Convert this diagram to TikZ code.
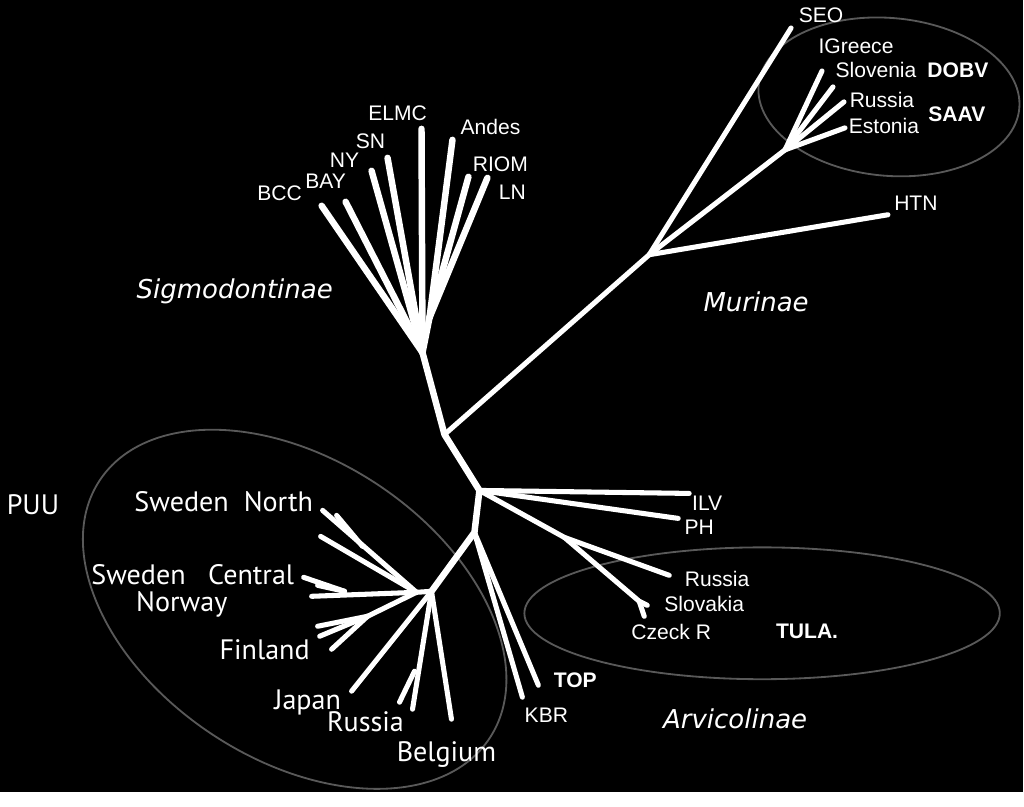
\documentclass[tikz,border=0pt]{standalone}
\usepackage{fontspec}
\setmainfont{Liberation Sans}
\newfontfamily\puufont{PT Sans}
\newfontfamily\cladefont{DejaVu Sans}

\begin{document}
\begin{tikzpicture}[x=0.025cm, y=-0.025cm,
  every node/.style={text=white, inner sep=0pt, outer sep=0pt, font=\fontsize{15}{18}\selectfont},
  branch/.style={draw=white, line width=4.6pt, line cap=round, line join=round},
  twig/.style={draw=white, line width=3.6pt, line cap=round, line join=round},
  clade/.style={draw=black!65!white, line width=1.3pt},
  strain/.style={font=\puufont\fontsize{20}{24}\selectfont},
  subfam/.style={font=\cladefont\itshape\fontsize{18.5}{22}\selectfont}]
\fill[black] (0,0) rectangle (1024,793);

\draw[clade, rotate around={-33.5:(295,610)}] (295,610) ellipse [x radius=234, y radius=150];
\draw[clade, rotate around={-5:(890,97)}] (890,97) ellipse [x radius=131, y radius=79];
\draw[clade] (763,614) ellipse [x radius=238, y radius=66];

\coordinate (s) at (423,353);
\coordinate (sr) at (430,318);
\coordinate (a) at (445,435);
\coordinate (b) at (480,491);
\coordinate (c) at (475,533);
\coordinate (d) at (432,592);
\coordinate (m) at (650,255);
\coordinate (dn) at (786,150);
\coordinate (n) at (565,538);
\coordinate (sk) at (640,602);
\coordinate (dl) at (417,593);
\coordinate (snj) at (363,547);
\coordinate (cj) at (345,592);
\coordinate (fj) at (368,617);
\coordinate (rj) at (415,672);

\coordinate (bcc) at (322,206);
\coordinate (bay) at (346,202);
\coordinate (ny) at (372,171);
\coordinate (sn) at (388,158);
\coordinate (elmc) at (422,129);
\coordinate (andes) at (453,140);
\coordinate (riom) at (469,177);
\coordinate (ln) at (488,178);

\coordinate (seo) at (792,28);
\coordinate (htn) at (889,215);
\coordinate (greece) at (823,71);
\coordinate (slov) at (834,87);
\coordinate (mrus) at (845,102);
\coordinate (est) at (846,128);

\coordinate (ilv) at (690,494);
\coordinate (ph) at (679,519);
\coordinate (arus) at (670,576);
\coordinate (slk) at (648,606);
\coordinate (cz) at (645,617);
\coordinate (top) at (539,686);
\coordinate (kbr) at (523,698);

\coordinate (sn1) at (323,511);
\coordinate (sn2) at (337,516);
\coordinate (sn3) at (321,537);
\coordinate (cen) at (312,597);
\coordinate (cen1) at (304,578);
\coordinate (cen2) at (318,586);
\coordinate (fin1) at (318,627);
\coordinate (fin2) at (320,637);
\coordinate (fin3) at (332,650);
\coordinate (jap) at (352,692);
\coordinate (rus1) at (413,710);
\coordinate (rus2) at (400,703);
\coordinate (bel) at (452,720);

\draw[branch] (s) -- (a) -- (b) -- (c) -- (d);
\draw[branch] (s) -- (bcc);
\draw[branch] (s) -- (bay);
\draw[branch] (s) -- (ny);
\draw[branch] (s) -- (sn);
\draw[branch] (s) -- (elmc);
\draw[branch] (s) -- (sr);
\draw[branch] (sr) -- (andes);
\draw[branch] (sr) -- (riom);
\draw[branch] (sr) -- (ln);

\draw[twig] (a) -- (m);
\draw[twig] (m) -- (seo);
\draw[twig] (m) -- (htn);
\draw[twig] (m) -- (dn);
\draw[twig] (dn) -- (greece);
\draw[twig] (dn) -- (slov);
\draw[twig] (dn) -- (mrus);
\draw[twig] (dn) -- (est);

\draw[twig] (b) -- (ilv);
\draw[twig] (b) -- (ph);
\draw[twig] (b) -- (n);
\draw[twig] (n) -- (arus);
\draw[twig] (n) -- (sk);
\draw[twig] (sk) -- (slk);
\draw[twig] (sk) -- (cz);
\draw[twig] (c) -- (top);
\draw[twig] (c) -- (kbr);

\draw[twig] (d) -- (dl);
\draw[twig] (dl) -- (sn1);
\draw[twig] (snj) -- (sn2);
\draw[twig] (dl) -- (sn3);
\draw[twig] (dl) -- (cen);
\draw[twig] (cj) -- (cen1);
\draw[twig] (cj) -- (cen2);
\draw[twig] (dl) -- (fj);
\draw[twig] (fj) -- (fin1);
\draw[twig] (fj) -- (fin2);
\draw[twig] (fj) -- (fin3);
\draw[twig] (d) -- (jap);
\draw[twig] (d) -- (rus1);
\draw[twig] (rj) -- (rus2);
\draw[twig] (d) -- (bel);

\node (lbcc) at (280,193) {BCC};
\node (lbay) at (326,181) {BAY};
\node (lny) at (345,160) {NY};
\node (lsn) at (371,141) {SN};
\node (lelmc) at (398,113) {ELMC};
\node (landes) at (491,127) {Andes};
\node (lriom) at (501,164) {RIOM};
\node (lln) at (513,192) {LN};

\node (lseo) at (822,15) {SEO};
\node (lgreece) at (857,46) {IGreece};
\node (lslov) at (877,70) {Slovenia};
\node (lmrus) at (883,100) {Russia};
\node (lest) at (885,126) {Estonia};
\node[font=\fontsize{15}{18}\selectfont\bfseries] (dobv) at (959,70) {DOBV};
\node[font=\fontsize{15}{18}\selectfont\bfseries] (saav) at (958,114) {SAAV};
\node (lhtn) at (917,203) {HTN};

\node (lilv) at (708,504) {ILV};
\node (lph) at (700,528) {PH};
\node (larus) at (718,580) {Russia};
\node (lslk) at (705,605) {Slovakia};
\node (lcz) at (672,633) {Czeck R};
\node[font=\fontsize{15}{18}\selectfont\bfseries] (tula) at (808,632) {TULA.};
\node[font=\fontsize{15}{18}\selectfont\bfseries] (ltop) at (576,681) {TOP};
\node (lkbr) at (547,716) {KBR};

\node[strain] (puu) at (33,505) {PUU};
\node[strain] (lsn) at (224,502) {Sweden\ \ North};
\node[strain] (lcen) at (193,575) {Sweden\ \ \ Central};
\node[strain] (lnor) at (182,605) {Norway};
\node[strain] (lfin) at (265,650) {Finland};
\node[strain] (ljap) at (308,703) {Japan};
\node[strain] (lrus) at (366,723) {Russia};
\node[strain] (lbel) at (447,755) {Belgium};

\node[subfam] (sig) at (235,292) {Sigmodontinae};
\node[subfam] (mur) at (757,302) {Murinae};
\node[subfam] (arv) at (736,720) {Arvicolinae};
\end{tikzpicture}
\end{document}
